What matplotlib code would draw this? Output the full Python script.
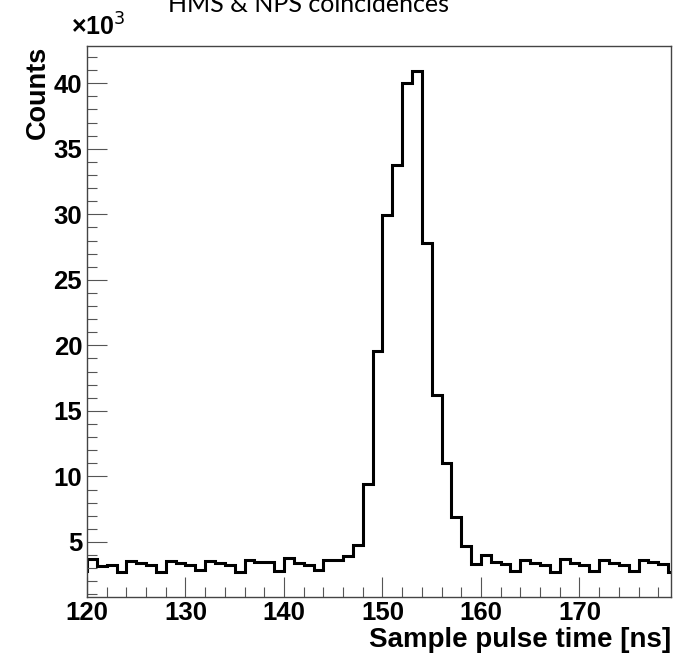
import matplotlib
matplotlib.use("Agg")
import matplotlib.pyplot as plt
import numpy as np
from matplotlib.ticker import MultipleLocator

# bin edges in ns (1 ns bins), first bin sits just left of the shown range
edges = np.arange(119, 181, 1)
# counts per bin, in units of 10^3
counts_k = [2.79,
            3.70, 3.17, 3.25, 2.71, 3.58, 3.40, 3.25, 2.69, 3.53, 3.37,
            3.27, 2.89, 3.55, 3.42, 3.27, 2.71, 3.66, 3.45, 3.45, 2.79,
            3.76, 3.42, 3.27, 2.89, 3.60, 3.66, 3.96, 4.75, 9.40, 19.6,
            29.94, 33.76, 40.0, 40.93, 27.8, 16.25, 11.03, 6.90, 4.70, 3.30,
            3.98, 3.48, 3.35, 2.79, 3.66, 3.40, 3.25, 2.73, 3.73, 3.42,
            3.25, 2.79, 3.66, 3.38, 3.25, 2.81, 3.66, 3.45, 3.30, 2.71]
xticks = [120, 130, 140, 150, 160, 170]
yticks = [5, 10, 15, 20, 25, 30, 35, 40]

fig = plt.figure(figsize=(6.81, 6.54), dpi=100)
ax = fig.add_axes([87/681, 1-597.3/654, (671-87)/681, (597.3-46)/654])

ax.stairs(counts_k, edges, color="black", linewidth=2.2)

lo, hi = min(counts_k[1:]), max(counts_k)
ax.set_xlim(120, 179.3)
ax.set_ylim(lo - 0.05*(hi-lo), hi + 0.05*(hi-lo))

ax.set_xticks(xticks)
ax.set_yticks(yticks)
ax.xaxis.set_minor_locator(MultipleLocator(2))
ax.yaxis.set_minor_locator(MultipleLocator(1))
ax.tick_params(which="both", direction="in", top=False, right=False, color="#555555", width=0.8)
ax.tick_params(which="major", length=14.4)
ax.tick_params(which="minor", length=7.2)
ax.tick_params(axis="y", pad=3.5)
ax.tick_params(axis="x", pad=3)
for lab in ax.get_xticklabels() + ax.get_yticklabels():
    lab.set_fontfamily("Liberation Sans")
    lab.set_fontweight("bold")
    lab.set_fontsize(18.5)
for s in ax.spines.values():
    s.set_color("#444444")
    s.set_linewidth(1.0)

ax.set_xlabel("Sample pulse time [ns]", fontfamily="Liberation Sans", fontweight="bold",
              fontsize=20, loc="right", labelpad=1)
ax.set_ylabel("Counts", fontfamily="Liberation Sans", fontweight="bold",
              fontsize=19.5, loc="top", labelpad=2)

fig.text(71/681, 1-36/654, "×10$^{3}$", fontfamily="Liberation Sans", fontweight="bold",
         fontsize=18, va="baseline", ha="left")
fig.text(308/681, 1-12/654, "HMS & NPS coincidences", fontfamily="Lato",
         fontsize=18, va="baseline", ha="center")

fig.savefig("out.png", dpi=100)
